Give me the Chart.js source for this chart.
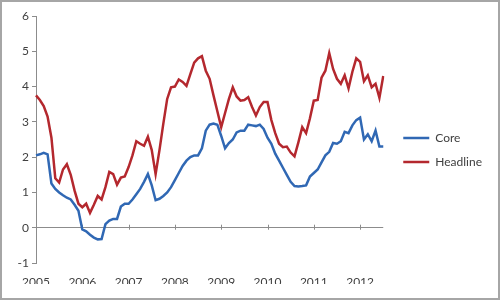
<!DOCTYPE html>
<html>
<head>
<meta charset="utf-8">
<script src="https://cdn.jsdelivr.net/npm/chart.js@4.4.1/dist/chart.umd.min.js"></script>
<style>
  html, body { margin: 0; padding: 0; background: #fff; }
  #wrap { position: relative; width: 500px; height: 300px; }
  #wrap::after { content: ''; position: absolute; inset: 0; border: 2px solid #a6a6a6; pointer-events: none; }
</style>
</head>
<body>
<div id="wrap"><canvas id="inflationChart"></canvas></div>
<script>
const years = [2005, 2006, 2007, 2008, 2009, 2010, 2011, 2012];

// monthly categories, Jan 2005 .. Jul 2012
const months = [];
years.forEach(y => {
    for (let m = 1; m <= 12; m++) months.push(y + '-' + m);
});
months.length = 91;

const core = [
    2.05, 2.08, 2.12, 2.08, 1.25, 1.1, 1.0, 0.92, 0.85, 0.8, 0.65, 0.48,
    -0.05, -0.1, -0.2, -0.28, -0.33, -0.32, 0.1, 0.2, 0.25, 0.25, 0.6, 0.68,
    0.68, 0.8, 0.95, 1.1, 1.3, 1.52, 1.2, 0.78, 0.82, 0.9, 1.0, 1.15,
    1.35, 1.55, 1.75, 1.9, 2.0, 2.05, 2.05, 2.25, 2.75, 2.92, 2.95, 2.92,
    2.6, 2.25, 2.4, 2.5, 2.7, 2.75, 2.75, 2.92, 2.9, 2.88, 2.92, 2.8,
    2.55, 2.38, 2.1, 1.9, 1.7, 1.5, 1.3, 1.18, 1.17, 1.18, 1.2, 1.45,
    1.55, 1.65, 1.85, 2.05, 2.15, 2.4, 2.38, 2.45, 2.72, 2.68, 2.9, 3.05,
    3.12, 2.5, 2.65, 2.45, 2.75, 2.3, 2.3
];

const headline = [
    3.75, 3.62, 3.45, 3.15, 2.55, 1.4, 1.28, 1.65, 1.8, 1.5, 1.05, 0.68,
    0.58, 0.68, 0.42, 0.65, 0.9, 0.8, 1.15, 1.58, 1.52, 1.22, 1.42, 1.45,
    1.72, 2.05, 2.45, 2.38, 2.32, 2.58, 2.2, 1.52, 2.2, 2.95, 3.65, 3.98,
    4.0, 4.2, 4.13, 4.02, 4.35, 4.68, 4.8, 4.86, 4.45, 4.22, 3.75, 3.3,
    2.85, 3.25, 3.65, 3.98, 3.72, 3.6, 3.62, 3.7, 3.42, 3.18, 3.42, 3.56,
    3.56, 3.05, 2.68, 2.38, 2.28, 2.3, 2.13, 2.02, 2.42, 2.85, 2.68, 3.1,
    3.6, 3.62, 4.25, 4.45, 4.95, 4.5, 4.22, 4.08, 4.32, 3.95, 4.42, 4.8,
    4.7, 4.15, 4.32, 3.98, 4.08, 3.68, 4.3
];

const axisGray = '#8c8c8c';
const textColor = '#404040';
const font = { family: 'Lato, "Open Sans", sans-serif', size: 12 };

// small year tick marks sitting on the zero line, like the Excel original
const yearTicks = {
    id: 'yearTicks',
    beforeDatasetsDraw(chart) {
        const { ctx, scales: { x, y } } = chart;
        const y0 = y.getPixelForValue(0);
        ctx.save();
        ctx.strokeStyle = axisGray;
        ctx.lineWidth = 1;
        months.forEach((m, i) => {
            if (i % 12 !== 0) return;
            const px = Math.round(x.getPixelForValue(i)) + 0.5;
            ctx.beginPath();
            ctx.moveTo(px, y0 - 3);
            ctx.lineTo(px, y0 + 2);
            ctx.stroke();
        });
        ctx.restore();
    }
};

new Chart(document.getElementById('inflationChart'), {
    type: 'line',
    data: {
        labels: months,
        datasets: [
            {
                label: 'Core',
                data: core,
                borderColor: '#3068b4',
                backgroundColor: '#3068b4',
                borderWidth: 2.5,
                pointRadius: 0,
                tension: 0,
            },
            {
                label: 'Headline',
                data: headline,
                borderColor: '#b4282e',
                backgroundColor: '#b4282e',
                borderWidth: 2.5,
                pointRadius: 0,
                tension: 0,
            },
        ],
    },
    options: {
        responsive: true,
        maintainAspectRatio: false,
        animation: false,
        layout: { padding: { top: 16, right: 8, bottom: 16, left: 0 } },
        plugins: {
            legend: {
                position: 'right',
                maxWidth: 140,
                labels: {
                    usePointStyle: true,
                    pointStyle: 'line',
                    pointStyleWidth: 26,
                    padding: 12,
                    color: textColor,
                    font: font,
                },
            },
            tooltip: { enabled: false },
        },
        scales: {
            x: {
                type: 'category',
                offset: false,
                grid: { display: false, drawTicks: false },
                border: { display: false },
                ticks: {
                    autoSkip: false,
                    maxRotation: 0,
                    padding: 12,
                    color: textColor,
                    font: font,
                    callback: (value, i) => (i % 12 === 0 ? months[i].slice(0, 4) : null),
                },
                afterFit: (s) => { s.height = 21; },
            },
            y: {
                min: -1,
                max: 6,
                ticks: { stepSize: 1, padding: 3, color: textColor, font: font },
                grid: {
                    color: (c) => (c.tick && c.tick.value === 0 ? axisGray : 'transparent'),
                    tickColor: axisGray,
                    tickLength: 4,
                },
                border: { color: axisGray },
                afterFit: (s) => { s.width = 36; },
            },
            // empty spacer so the plot stops short of the legend
            gap: {
                type: 'linear',
                position: 'right',
                grid: { display: false, drawTicks: false },
                border: { display: false },
                ticks: { display: false },
                afterFit: (s) => { s.width = 8; },
            },
        },
    },
    plugins: [yearTicks],
});
</script>
</body>
</html>
